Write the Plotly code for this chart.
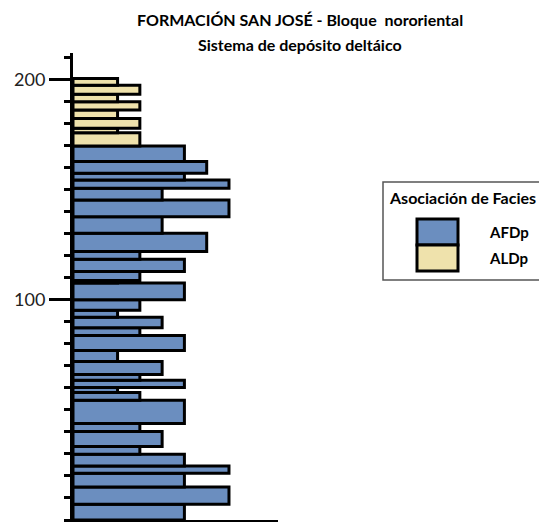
import plotly.graph_objects as go

# Bed limits (m) and grain-size class for each facies association
afdp_limits = [0, 7.1, 15.0, 21.2, 24.5, 29.8, 33.4, 40.2, 43.8, 54.4, 57.9, 60.1,
               63.4, 66.0, 72.0, 77.0, 83.8, 87.3, 92.0, 95.2, 100.0, 107.6, 108.7,
               112.8, 118.4, 121.9, 130.2, 137.7, 145.3, 150.6, 154.4, 157.4, 162.7, 169.8]
afdp_grain = [5, 7, 5, 7, 5, 3, 4, 3, 5, 3, 2, 5, 3, 4, 2, 5, 3, 4, 2, 3, 5, 2, 3,
              5, 3, 6, 4, 7, 4, 7, 5, 6, 5]

aldp_limits = [169.8, 175.8, 177.8, 182.3, 186.1, 189.9, 193.3, 197.4, 200.4]
aldp_grain = [3, 2, 3, 2, 3, 2, 3, 2]

y_ticks = [100, 200]
y_tick_labels = ["100", "200"]

title_line1 = "FORMACIÓN SAN JOSÉ - Bloque  nororiental"
title_line2 = "Sistema de depósito deltáico"
legend_title = "Asociación de Facies"
names = ["AFDp", "ALDp"]
colors = ["#6B8EBF", "#EFE2AC"]


def bed_trace(limits, grain, color, name):
    mids = [(a + b) / 2 for a, b in zip(limits[:-1], limits[1:])]
    thick = [b - a for a, b in zip(limits[:-1], limits[1:])]
    return go.Bar(orientation="h", y=mids, x=grain, width=thick, base=0,
                  marker=dict(color=color, line=dict(color="black", width=3)),
                  name=name, showlegend=False, hoverinfo="skip")


fig = go.Figure()
fig.add_trace(bed_trace(afdp_limits, afdp_grain, colors[0], names[0]))
fig.add_trace(bed_trace(aldp_limits, aldp_grain, colors[1], names[1]))

W, H = 539, 522
L, R, T, B = 73, 278, 53, 520


def px(x):
    return (x - L) / (R - L)


def py(y):
    return (B - y) / (B - T)


font = "Lato"
fig.update_layout(
    width=W, height=H,
    margin=dict(l=L, r=W - R, t=T, b=H - B),
    paper_bgcolor="white", plot_bgcolor="white",
    barmode="overlay",
    showlegend=False,
    font=dict(family=font, color="#222"),
    xaxis=dict(range=[0, 9.2], showline=True, linewidth=2, linecolor="black",
               showticklabels=False, ticks="", showgrid=False, zeroline=False),
    yaxis=dict(range=[0, 212], tickvals=y_ticks, ticktext=y_tick_labels,
               ticks="outside", ticklen=21, tickwidth=3, tickcolor="black",
               showline=True, linewidth=3, linecolor="black",
               showgrid=False, zeroline=False,
               tickfont=dict(size=18, family=font, color="#222"),
               minor=dict(dtick=10, tick0=0, ticks="outside", ticklen=6,
                          tickwidth=3, tickcolor="black", showgrid=False)),
)

ann = [
    dict(text="<b>" + title_line1 + "</b>", x=px(300), y=py(20), size=16),
    dict(text="<b>" + title_line2 + "</b>", x=px(300), y=py(44), size=16),
]
for a in ann:
    fig.add_annotation(text=a["text"], x=a["x"], y=a["y"], xref="paper", yref="paper",
                       xanchor="center", yanchor="middle", showarrow=False,
                       font=dict(size=a["size"], family=font, color="black"))

# Legend box drawn manually
fig.add_shape(type="rect", xref="paper", yref="paper", x0=px(383), x1=px(560),
              y0=py(280), y1=py(182), line=dict(color="#555", width=1.5),
              fillcolor="white", layer="below")
fig.add_annotation(text="<b>" + legend_title + "</b>", x=px(387), y=py(197),
                   xref="paper", yref="paper", xanchor="left", yanchor="middle",
                   showarrow=False, font=dict(size=16, family=font, color="black"))
fig.add_shape(type="rect", xref="paper", yref="paper", x0=px(417), x1=px(458),
              y0=py(245), y1=py(219), line=dict(color="black", width=3),
              fillcolor=colors[0])
fig.add_shape(type="rect", xref="paper", yref="paper", x0=px(417), x1=px(458),
              y0=py(271), y1=py(245), line=dict(color="black", width=3),
              fillcolor=colors[1])
for nm, yy in zip(names, [232, 258]):
    fig.add_annotation(text="<b>" + nm + "</b>", x=px(487), y=py(yy),
                       xref="paper", yref="paper", xanchor="left", yanchor="middle",
                       showarrow=False, font=dict(size=15, family=font, color="black"))

fig.write_html("out.html",
               config={"displayModeBar": False},
               post_script="document.body.style.margin='0';"
                           "document.body.style.overflow='hidden';")
